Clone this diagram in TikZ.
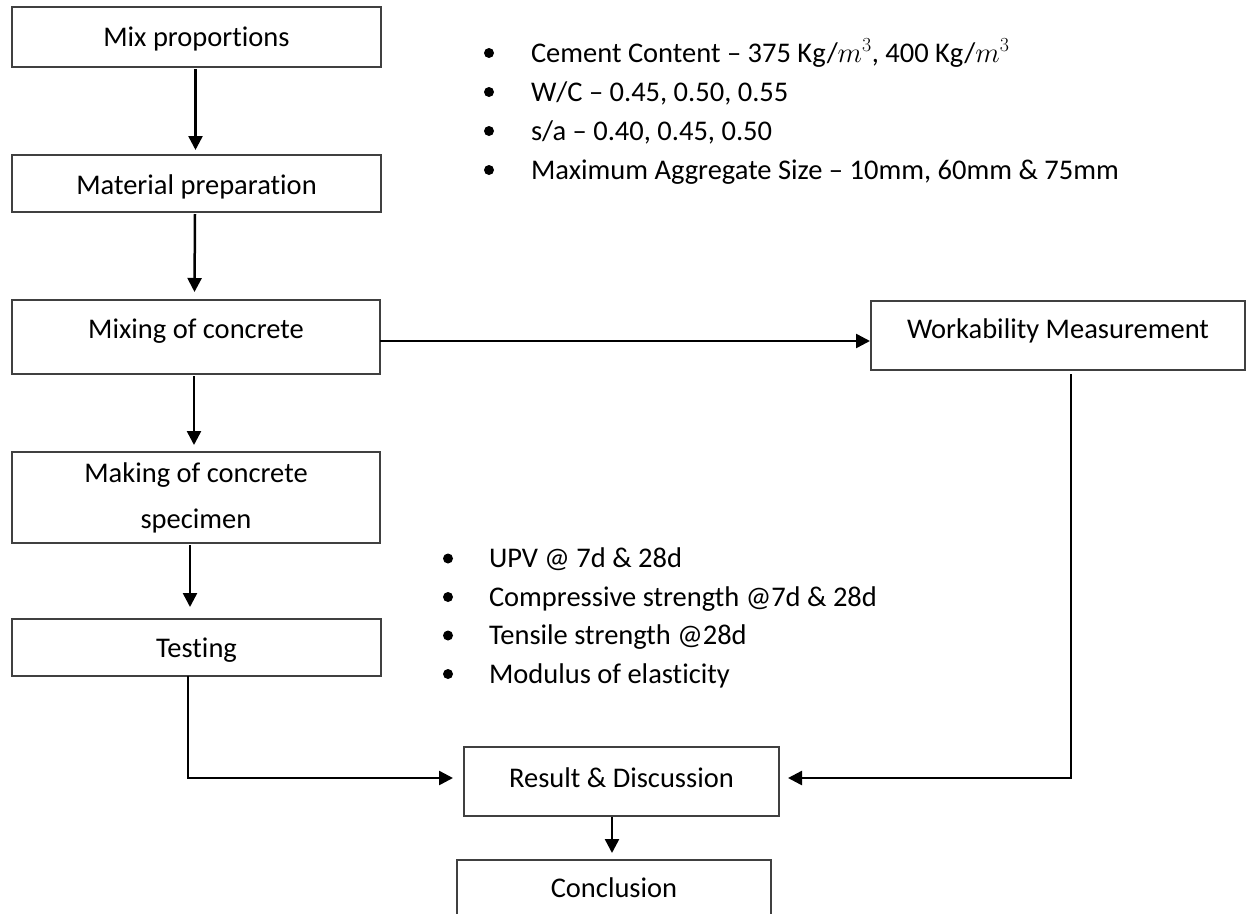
\RequirePackage{fix-cm}
\documentclass[tikz,border=0pt]{standalone}
\usepackage{fontspec}
\setmainfont{Carlito}[Ligatures=NoCommon]
\usetikzlibrary{arrows.meta}
\tikzset{
  box/.style={draw=black!75, line width=1.3pt, inner sep=0pt, outer sep=0pt, align=center,
    font=\fontsize{28.5}{46}\selectfont},
  txt/.style={inner sep=0pt, outer sep=0pt, anchor=base west, font=\fontsize{28.5}{34}\selectfont},
  arr/.style={line width=2.5pt, -{Triangle[length=14pt,width=14pt]}},
  bul/.style={fill=black}
}
\begin{document}
\begin{tikzpicture}[x=1pt,y=-1pt]
\useasboundingbox (0,0) rectangle (1252,913);
\clip (0,0) rectangle (1252,913);
\fill[white] (0,0) rectangle (1252,913);
% boxes
\node[box, anchor=base, minimum width=369pt, text height=39pt, text depth=21pt] (mix) at (196.5,46) {Mix proportions};
\node[box, anchor=base, minimum width=369pt, text height=39pt, text depth=18pt] (mat) at (196.5,194) {Material preparation};
\node[box, anchor=base, minimum width=368pt, text height=38pt, text depth=36pt] (mixc) at (196,338) {Mixing of concrete};
\node[box, anchor=base, minimum width=374pt, text height=37pt, text depth=32pt] (work) at (1058,338) {Workability Measurement};
\node[box, minimum width=368pt, minimum height=91pt] (make) at (196,497.5) {Making of concrete\\specimen};
\node[box, anchor=base, minimum width=369pt, text height=38pt, text depth=19pt] (test) at (196.5,657) {Testing};
\node[box, anchor=base, minimum width=315pt, text height=40pt, text depth=29pt] (res) at (621.5,787) {Result \& Discussion};
\node[box, anchor=base, minimum width=314pt, text height=37pt, text depth=20pt] (conc) at (614,897) {Conclusion};
% top list
\fill[bul] (489,53) circle (5pt);
\fill[bul] (489,92) circle (5pt);
\fill[bul] (489,131) circle (5pt);
\fill[bul] (489,170) circle (5pt);
\node[txt] (p1) at (531,62) {Cement Content -- 375 Kg/$m^3$, 400 Kg/$m^3$};
\node[txt] (p2) at (531,101) {W/C -- 0.45, 0.50, 0.55};
\node[txt] (p3) at (531,140) {s/a -- 0.40, 0.45, 0.50};
\node[txt] (p4) at (531,179) {Maximum Aggregate Size -- 10mm, 60mm \& 75mm};
% bottom list
\fill[bul] (448,558.5) circle (5pt);
\fill[bul] (448,597) circle (5pt);
\fill[bul] (448,635.5) circle (5pt);
\fill[bul] (448,674) circle (5pt);
\node[txt] (t1) at (489,567.5) {UPV @ 7d \& 28d};
\node[txt] (t2) at (489,606) {Compressive strength @7d \& 28d};
\node[txt] (t3) at (489,644.5) {Tensile strength @28d};
\node[txt] (t4) at (489,683) {Modulus of elasticity};
% connectors
\draw[arr] ([xshift=-1pt,yshift=-2pt]mix.south) -- ([xshift=-1pt,yshift=5pt]mat.north);
\draw[arr] ([xshift=-1.5pt,yshift=-2pt]mat.south) -- ([xshift=-1.5pt,yshift=8pt]mixc.north);
\draw[arr] ([xshift=-2pt,yshift=-2pt]mixc.south) -- ([xshift=-2pt,yshift=7pt]make.north);
\draw[arr] ([xshift=-6pt,yshift=-2pt]make.south) -- ([xshift=-6.5pt,yshift=12pt]test.north);
\coordinate (h1) at ([yshift=-4pt]mixc.east);
\draw[arr] (h1) -- ([xshift=-1pt]h1 -| work.west);
\coordinate (tl) at ([xshift=-8.5pt]test.south);
\coordinate (rl) at ([xshift=-11pt,yshift=3.5pt]res.west);
\draw[arr] (tl) |- (rl);
\coordinate (wl) at ([xshift=13pt,yshift=-4pt]work.south);
\coordinate (rr) at ([xshift=9pt,yshift=3.5pt]res.east);
\draw[arr] (wl) |- (rr);
\draw[arr] ([xshift=-9.5pt,yshift=-1pt]res.south) -- ([xshift=-2pt,yshift=7pt]conc.north);
\end{tikzpicture}
\end{document}
